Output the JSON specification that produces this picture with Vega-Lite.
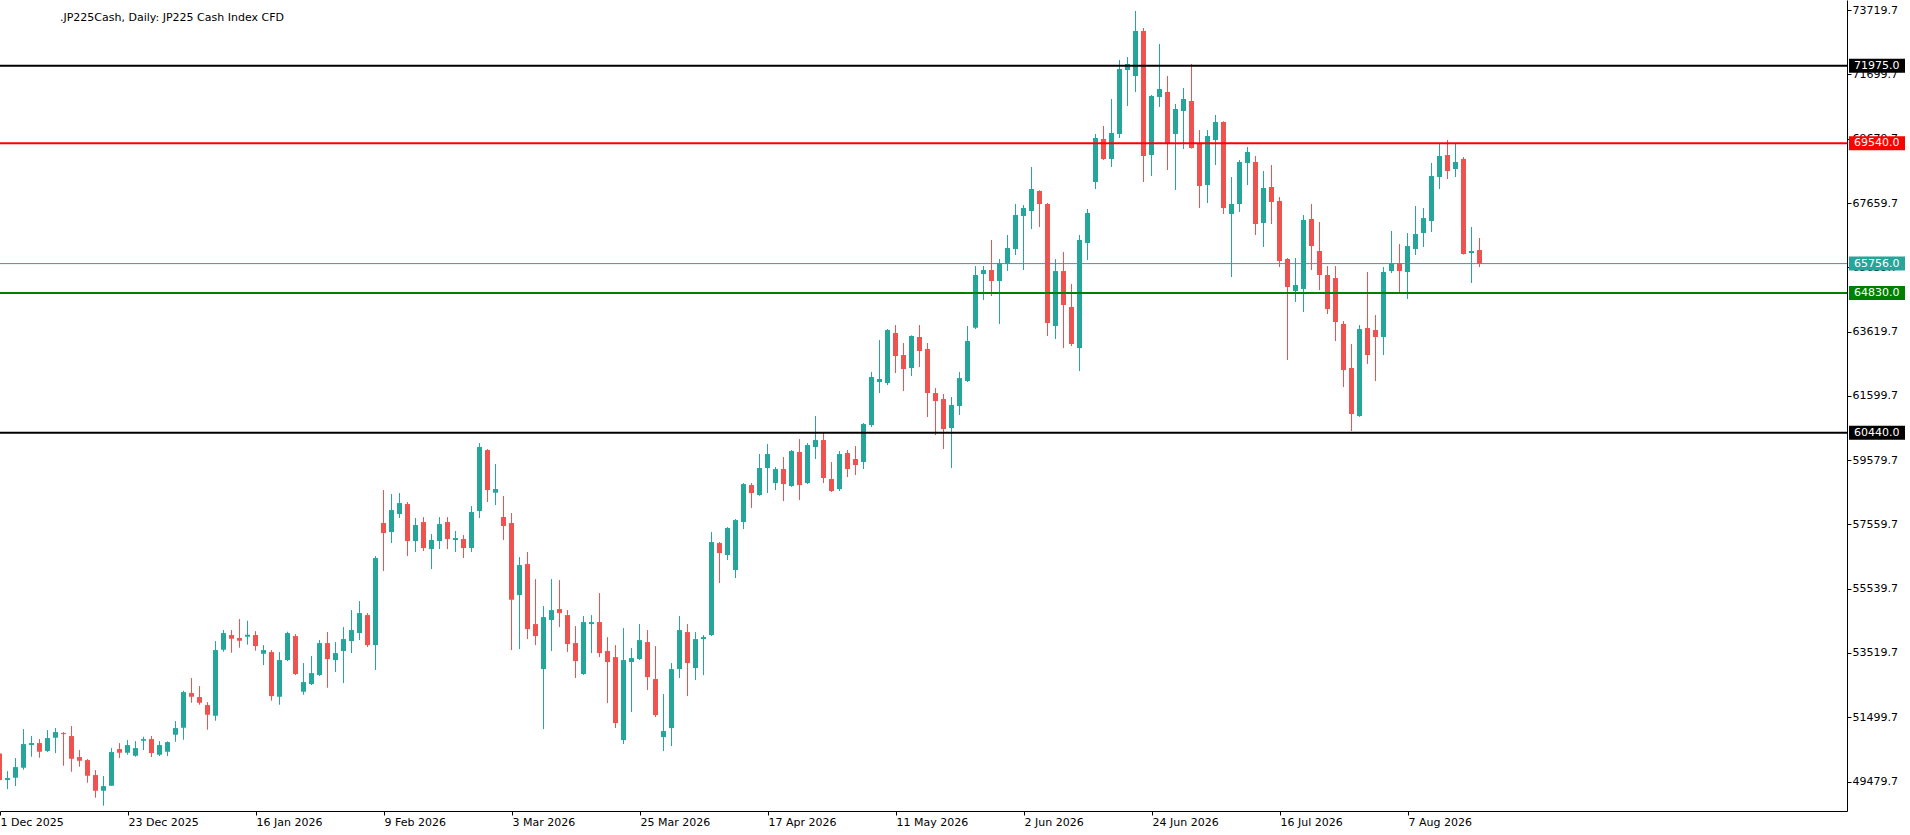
{
  "$schema": "https://vega.github.io/schema/vega-lite/v6.json",
  "width": 1847,
  "height": 811,
  "autosize": {"type": "none"},
  "padding": {"left": 0, "top": 0, "right": 63, "bottom": 24},
  "background": "#ffffff",
  "title": {
    "text": ".JP225Cash, Daily:  JP225 Cash Index CFD",
    "anchor": "start", "frame": "group", "orient": "top",
    "offset": -29, "baseline": "middle", "dx": 60,
    "font": "DejaVu Sans", "fontSize": 11, "fontWeight": "normal", "color": "#000000"
  },
  "config": {"view": {"stroke": null}},
  "datasets": {
    "candles": [
      {"d":"2025-12-01","o":50363,"h":50415,"l":49472,"c":49524},
      {"d":"2025-12-02","o":49524,"h":49807,"l":49241,"c":49587},
      {"d":"2025-12-03","o":49598,"h":50216,"l":49336,"c":49932},
      {"d":"2025-12-04","o":49912,"h":51128,"l":49849,"c":50656},
      {"d":"2025-12-05","o":50625,"h":50908,"l":50258,"c":50688},
      {"d":"2025-12-08","o":50688,"h":50813,"l":50226,"c":50415},
      {"d":"2025-12-09","o":50436,"h":51096,"l":50405,"c":50845},
      {"d":"2025-12-10","o":50855,"h":51159,"l":50373,"c":51033},
      {"d":"2025-12-11","o":51002,"h":51033,"l":49975,"c":50970},
      {"d":"2025-12-12","o":50908,"h":51222,"l":49786,"c":50195},
      {"d":"2025-12-15","o":50247,"h":50467,"l":49944,"c":50132},
      {"d":"2025-12-16","o":50153,"h":50185,"l":49441,"c":49661},
      {"d":"2025-12-17","o":49682,"h":49839,"l":48969,"c":49189},
      {"d":"2025-12-18","o":49189,"h":49650,"l":48718,"c":49336},
      {"d":"2025-12-19","o":49346,"h":50530,"l":49346,"c":50405},
      {"d":"2025-12-22","o":50499,"h":50688,"l":50216,"c":50384},
      {"d":"2025-12-23","o":50384,"h":50782,"l":50321,"c":50625},
      {"d":"2025-12-24","o":50289,"h":50750,"l":50258,"c":50530},
      {"d":"2025-12-26","o":50761,"h":50887,"l":50467,"c":50813},
      {"d":"2025-12-29","o":50813,"h":50908,"l":50247,"c":50373},
      {"d":"2025-12-30","o":50321,"h":50750,"l":50279,"c":50625},
      {"d":"2025-12-31","o":50415,"h":50740,"l":50279,"c":50719},
      {"d":"2026-01-02","o":50949,"h":51379,"l":50729,"c":51159},
      {"d":"2026-01-05","o":51169,"h":52332,"l":50792,"c":52290},
      {"d":"2026-01-06","o":52259,"h":52730,"l":51955,"c":52144},
      {"d":"2026-01-07","o":52133,"h":52479,"l":51892,"c":51955},
      {"d":"2026-01-08","o":51882,"h":51976,"l":51106,"c":51578},
      {"d":"2026-01-09","o":51547,"h":53893,"l":51389,"c":53610},
      {"d":"2026-01-12","o":53621,"h":54239,"l":53558,"c":54145},
      {"d":"2026-01-13","o":54082,"h":54239,"l":53527,"c":53967},
      {"d":"2026-01-14","o":53988,"h":54585,"l":53684,"c":53904},
      {"d":"2026-01-15","o":54030,"h":54532,"l":53778,"c":54093},
      {"d":"2026-01-16","o":54082,"h":54207,"l":53589,"c":53736},
      {"d":"2026-01-19","o":53495,"h":53767,"l":53139,"c":53610},
      {"d":"2026-01-20","o":53547,"h":53610,"l":52018,"c":52164},
      {"d":"2026-01-21","o":52143,"h":53547,"l":51892,"c":53296},
      {"d":"2026-01-22","o":53296,"h":54187,"l":53264,"c":54145},
      {"d":"2026-01-23","o":54050,"h":54113,"l":52824,"c":52856},
      {"d":"2026-01-26","o":52301,"h":53202,"l":52206,"c":52604},
      {"d":"2026-01-27","o":52542,"h":53422,"l":52510,"c":52887},
      {"d":"2026-01-28","o":52824,"h":53924,"l":52800,"c":53830},
      {"d":"2026-01-29","o":53830,"h":54176,"l":52426,"c":53327},
      {"d":"2026-01-30","o":53296,"h":53862,"l":52919,"c":53516},
      {"d":"2026-02-02","o":53579,"h":54333,"l":52573,"c":53956},
      {"d":"2026-02-03","o":53893,"h":54867,"l":53516,"c":54239},
      {"d":"2026-02-04","o":54145,"h":55150,"l":53924,"c":54773},
      {"d":"2026-02-05","o":54710,"h":54773,"l":53704,"c":53767},
      {"d":"2026-02-06","o":53767,"h":56565,"l":52982,"c":56502},
      {"d":"2026-02-09","o":57602,"h":58639,"l":56093,"c":57288},
      {"d":"2026-02-10","o":57319,"h":58513,"l":56973,"c":58010},
      {"d":"2026-02-11","o":57885,"h":58545,"l":57759,"c":58231},
      {"d":"2026-02-12","o":58199,"h":58262,"l":56565,"c":57036},
      {"d":"2026-02-13","o":57036,"h":57759,"l":56691,"c":57539},
      {"d":"2026-02-16","o":57633,"h":57790,"l":56722,"c":56816},
      {"d":"2026-02-17","o":56785,"h":57256,"l":56156,"c":57068},
      {"d":"2026-02-18","o":57036,"h":57790,"l":56785,"c":57570},
      {"d":"2026-02-19","o":57633,"h":57790,"l":56785,"c":57099},
      {"d":"2026-02-20","o":57068,"h":57351,"l":56691,"c":57130},
      {"d":"2026-02-23","o":57099,"h":57225,"l":56502,"c":56816},
      {"d":"2026-02-24","o":56816,"h":58136,"l":56691,"c":57948},
      {"d":"2026-02-25","o":57979,"h":60116,"l":57759,"c":59991},
      {"d":"2026-02-26","o":59896,"h":59928,"l":58262,"c":58639},
      {"d":"2026-02-27","o":58556,"h":59457,"l":58168,"c":58671},
      {"d":"2026-03-02","o":57791,"h":58451,"l":57068,"c":57508},
      {"d":"2026-03-03","o":57602,"h":57917,"l":53610,"c":55192},
      {"d":"2026-03-04","o":55339,"h":56534,"l":53642,"c":56282},
      {"d":"2026-03-05","o":56313,"h":56691,"l":53956,"c":54270},
      {"d":"2026-03-06","o":54427,"h":55842,"l":53767,"c":54050},
      {"d":"2026-03-09","o":53013,"h":54993,"l":51127,"c":54647},
      {"d":"2026-03-10","o":54553,"h":55842,"l":53579,"c":54867},
      {"d":"2026-03-11","o":54899,"h":55810,"l":54333,"c":54773},
      {"d":"2026-03-12","o":54710,"h":54867,"l":53547,"c":53799},
      {"d":"2026-03-13","o":53830,"h":54365,"l":52730,"c":53265},
      {"d":"2026-03-16","o":52856,"h":54679,"l":52830,"c":54490},
      {"d":"2026-03-17","o":54427,"h":54710,"l":53516,"c":54490},
      {"d":"2026-03-18","o":54490,"h":55402,"l":53390,"c":53516},
      {"d":"2026-03-19","o":53579,"h":54019,"l":51944,"c":53233},
      {"d":"2026-03-20","o":53390,"h":53767,"l":51159,"c":51316},
      {"d":"2026-03-23","o":50781,"h":54302,"l":50656,"c":53296},
      {"d":"2026-03-24","o":53233,"h":53673,"l":51661,"c":53359},
      {"d":"2026-03-25","o":53327,"h":54427,"l":53300,"c":53924},
      {"d":"2026-03-26","o":53862,"h":54239,"l":52353,"c":52762},
      {"d":"2026-03-27","o":52699,"h":53736,"l":51504,"c":51567},
      {"d":"2026-03-30","o":50876,"h":52227,"l":50436,"c":51064},
      {"d":"2026-03-31","o":51159,"h":53202,"l":50593,"c":53013},
      {"d":"2026-04-01","o":53013,"h":54679,"l":52730,"c":54239},
      {"d":"2026-04-02","o":54176,"h":54427,"l":52164,"c":53202},
      {"d":"2026-04-06","o":53045,"h":54176,"l":52667,"c":53956},
      {"d":"2026-04-07","o":53956,"h":54082,"l":52824,"c":54019},
      {"d":"2026-04-08","o":54082,"h":57319,"l":54050,"c":57005},
      {"d":"2026-04-09","o":56973,"h":57005,"l":55716,"c":56659},
      {"d":"2026-04-10","o":56596,"h":57476,"l":56439,"c":57445},
      {"d":"2026-04-13","o":56125,"h":57728,"l":55873,"c":57696},
      {"d":"2026-04-14","o":57633,"h":58859,"l":57413,"c":58828},
      {"d":"2026-04-15","o":58796,"h":58859,"l":58073,"c":58545},
      {"d":"2026-04-16","o":58482,"h":59771,"l":58460,"c":59331},
      {"d":"2026-04-17","o":59331,"h":60085,"l":58545,"c":59771},
      {"d":"2026-04-20","o":58859,"h":59362,"l":58639,"c":59299},
      {"d":"2026-04-21","o":59299,"h":59677,"l":58293,"c":58828},
      {"d":"2026-04-22","o":58765,"h":59897,"l":58740,"c":59865},
      {"d":"2026-04-23","o":59834,"h":60242,"l":58325,"c":58796},
      {"d":"2026-04-24","o":58859,"h":60116,"l":58828,"c":60054},
      {"d":"2026-04-27","o":59991,"h":60965,"l":59614,"c":60211},
      {"d":"2026-04-28","o":60211,"h":60431,"l":58859,"c":59017},
      {"d":"2026-04-29","o":58985,"h":59519,"l":58576,"c":58608},
      {"d":"2026-04-30","o":58671,"h":59865,"l":58608,"c":59771},
      {"d":"2026-05-01","o":59802,"h":59897,"l":59048,"c":59299},
      {"d":"2026-05-04","o":59614,"h":60022,"l":59111,"c":59425},
      {"d":"2026-05-05","o":59519,"h":60745,"l":59299,"c":60714},
      {"d":"2026-05-06","o":60682,"h":62348,"l":60619,"c":62191},
      {"d":"2026-05-07","o":62034,"h":63354,"l":61688,"c":62128},
      {"d":"2026-05-08","o":62002,"h":63700,"l":61939,"c":63668},
      {"d":"2026-05-11","o":63574,"h":63825,"l":62317,"c":62851},
      {"d":"2026-05-12","o":62882,"h":63260,"l":61751,"c":62442},
      {"d":"2026-05-13","o":62474,"h":63500,"l":62222,"c":63480},
      {"d":"2026-05-14","o":63448,"h":63825,"l":62505,"c":63008},
      {"d":"2026-05-15","o":63071,"h":63260,"l":60934,"c":61688},
      {"d":"2026-05-18","o":61688,"h":61845,"l":60368,"c":61436},
      {"d":"2026-05-19","o":61499,"h":61657,"l":59928,"c":60557},
      {"d":"2026-05-20","o":60588,"h":61562,"l":59331,"c":61311},
      {"d":"2026-05-21","o":61279,"h":62348,"l":60997,"c":62159},
      {"d":"2026-05-22","o":62065,"h":63794,"l":62034,"c":63322},
      {"d":"2026-05-25","o":63741,"h":65680,"l":63700,"c":65397},
      {"d":"2026-05-26","o":65428,"h":65680,"l":64611,"c":65554},
      {"d":"2026-05-27","o":65554,"h":66497,"l":64737,"c":65208},
      {"d":"2026-05-28","o":65208,"h":65899,"l":63856,"c":65774},
      {"d":"2026-05-29","o":65742,"h":66654,"l":65522,"c":66245},
      {"d":"2026-06-01","o":66214,"h":67628,"l":66025,"c":67282},
      {"d":"2026-06-02","o":67251,"h":67597,"l":65554,"c":67502},
      {"d":"2026-06-03","o":67408,"h":68791,"l":66842,"c":68100},
      {"d":"2026-06-04","o":68037,"h":68060,"l":66905,"c":67628},
      {"d":"2026-06-05","o":67628,"h":67659,"l":63479,"c":63888},
      {"d":"2026-06-08","o":63794,"h":65899,"l":63385,"c":65522},
      {"d":"2026-06-09","o":65522,"h":66119,"l":63102,"c":64454},
      {"d":"2026-06-10","o":64391,"h":65114,"l":63165,"c":63228},
      {"d":"2026-06-11","o":63102,"h":66654,"l":62379,"c":66497},
      {"d":"2026-06-12","o":66402,"h":67471,"l":65868,"c":67345},
      {"d":"2026-06-15","o":68320,"h":69828,"l":68100,"c":69703},
      {"d":"2026-06-16","o":69671,"h":70080,"l":69011,"c":69043},
      {"d":"2026-06-17","o":69043,"h":70928,"l":68791,"c":69860},
      {"d":"2026-06-18","o":69828,"h":72154,"l":69703,"c":71871},
      {"d":"2026-06-19","o":71840,"h":72248,"l":70708,"c":72028},
      {"d":"2026-06-22","o":71651,"h":73694,"l":71148,"c":73066},
      {"d":"2026-06-23","o":73066,"h":73160,"l":68320,"c":69137},
      {"d":"2026-06-24","o":69168,"h":71054,"l":68508,"c":71023},
      {"d":"2026-06-25","o":70991,"h":72657,"l":70677,"c":71243},
      {"d":"2026-06-26","o":71148,"h":71651,"l":68697,"c":69545},
      {"d":"2026-06-29","o":69828,"h":70771,"l":68068,"c":70614},
      {"d":"2026-06-30","o":70551,"h":71274,"l":69357,"c":70928},
      {"d":"2026-07-01","o":70865,"h":72028,"l":69370,"c":69388},
      {"d":"2026-07-02","o":69545,"h":69954,"l":67502,"c":68194},
      {"d":"2026-07-03","o":68225,"h":69954,"l":67659,"c":69765},
      {"d":"2026-07-06","o":69640,"h":70426,"l":68854,"c":70205},
      {"d":"2026-07-07","o":70206,"h":70230,"l":67314,"c":67502},
      {"d":"2026-07-08","o":67314,"h":68477,"l":65334,"c":67628},
      {"d":"2026-07-09","o":67628,"h":69011,"l":67377,"c":68948},
      {"d":"2026-07-10","o":68917,"h":69420,"l":68225,"c":69262},
      {"d":"2026-07-13","o":68948,"h":69137,"l":66654,"c":67000},
      {"d":"2026-07-14","o":67031,"h":68665,"l":66277,"c":68131},
      {"d":"2026-07-15","o":68163,"h":68854,"l":67000,"c":67691},
      {"d":"2026-07-16","o":67723,"h":67848,"l":65648,"c":65837},
      {"d":"2026-07-17","o":65900,"h":65931,"l":62725,"c":65019},
      {"d":"2026-07-20","o":64894,"h":65931,"l":64548,"c":65082},
      {"d":"2026-07-21","o":64957,"h":67282,"l":64234,"c":67126},
      {"d":"2026-07-22","o":67157,"h":67628,"l":65554,"c":66308},
      {"d":"2026-07-23","o":66151,"h":67063,"l":64925,"c":65397},
      {"d":"2026-07-24","o":65397,"h":65680,"l":64171,"c":64328},
      {"d":"2026-07-27","o":65302,"h":65680,"l":63322,"c":63920},
      {"d":"2026-07-28","o":63857,"h":63951,"l":61876,"c":62411},
      {"d":"2026-07-29","o":62474,"h":63228,"l":60493,"c":61028},
      {"d":"2026-07-30","o":60965,"h":63825,"l":60940,"c":63699},
      {"d":"2026-07-31","o":63731,"h":65491,"l":62599,"c":62882},
      {"d":"2026-08-03","o":63668,"h":64139,"l":62065,"c":63448},
      {"d":"2026-08-04","o":63448,"h":65648,"l":62882,"c":65491},
      {"d":"2026-08-05","o":65522,"h":66780,"l":65460,"c":65774},
      {"d":"2026-08-06","o":65774,"h":66371,"l":64862,"c":65522},
      {"d":"2026-08-07","o":65491,"h":66717,"l":64642,"c":66308},
      {"d":"2026-08-10","o":66214,"h":67565,"l":66025,"c":66685},
      {"d":"2026-08-11","o":66717,"h":67502,"l":66277,"c":67188},
      {"d":"2026-08-12","o":67094,"h":68917,"l":66748,"c":68508},
      {"d":"2026-08-13","o":68477,"h":69514,"l":68100,"c":69137},
      {"d":"2026-08-14","o":69168,"h":69640,"l":68414,"c":68665},
      {"d":"2026-08-17","o":68728,"h":69546,"l":68477,"c":68948},
      {"d":"2026-08-18","o":69043,"h":69106,"l":66040,"c":66057},
      {"d":"2026-08-19","o":66088,"h":66905,"l":65146,"c":66151},
      {"d":"2026-08-20","o":66182,"h":66560,"l":65648,"c":65742}
    ],
    "levels": [
      {"kind": "upper", "v": 71975},
      {"kind": "resistance", "v": 69540},
      {"kind": "bid", "v": 65756},
      {"kind": "support", "v": 64830},
      {"kind": "lower", "v": 60440}
    ]
  },
  "layer": [
    {
      "data": {"name": "candles"},
      "encoding": {
        "x": {
          "field": "d", "type": "ordinal",
          "scale": {
            "type": "point", "padding": 0.4375, "align": 0, "round": false,
            "domain": {"unionWith": [
              "2026-08-21", "2026-08-24", "2026-08-25", "2026-08-26", "2026-08-27", "2026-08-28", "2026-08-31",
              "2026-09-01", "2026-09-02", "2026-09-03", "2026-09-04", "2026-09-07", "2026-09-08", "2026-09-09",
              "2026-09-10", "2026-09-11", "2026-09-14", "2026-09-15", "2026-09-16", "2026-09-17", "2026-09-18",
              "2026-09-21", "2026-09-22", "2026-09-23", "2026-09-24", "2026-09-25", "2026-09-28", "2026-09-29",
              "2026-09-30", "2026-10-01", "2026-10-02", "2026-10-05", "2026-10-06", "2026-10-07", "2026-10-08",
              "2026-10-09", "2026-10-12", "2026-10-13", "2026-10-14", "2026-10-15", "2026-10-16", "2026-10-19",
              "2026-10-20", "2026-10-21", "2026-10-22"
            ]}
          },
          "axis": {
            "title": null, "orient": "bottom",
            "values": ["2025-12-01", "2025-12-23", "2026-01-16", "2026-02-09", "2026-03-03", "2026-03-25",
                       "2026-04-17", "2026-05-11", "2026-06-02", "2026-06-24", "2026-07-16", "2026-08-07"],
            "labelExpr": "utcFormat(toDate(datum.value), '%-d %b %Y')",
            "labelAngle": 0, "labelAlign": "left", "labelBaseline": "top", "labelPadding": 1,
            "labelOverlap": false, "labelBound": false, "labelFlush": false,
            "labelFont": "DejaVu Sans", "labelFontSize": 11, "labelColor": "#000000",
            "tickSize": 4, "tickColor": "#000000", "domainColor": "#000000", "grid": false
          }
        },
        "color": {"condition": {"test": "datum.c > datum.o", "value": "#26a69a"}, "value": "#ef5350"}
      },
      "layer": [
        {
          "mark": {"type": "rule", "strokeWidth": 1, "xOffset": -0.5},
          "encoding": {
            "y": {
              "field": "l", "type": "quantitative",
              "scale": {"domain": [48553, 74040], "nice": false, "zero": false},
              "axis": {
                "title": null, "orient": "right",
                "values": [49479.7, 50489.7, 51499.7, 52509.7, 53519.7, 54529.7, 55539.7, 56549.7, 57559.7,
                           58569.7, 59579.7, 60589.7, 61599.7, 62609.7, 63619.7, 64629.7, 65639.7, 66649.7,
                           67659.7, 68669.7, 69679.7, 70689.7, 71699.7, 72709.7, 73719.7],
                "format": ".1f", "labelPadding": 1, "labelOverlap": false, "labelBound": false, "labelFlush": false,
                "labelFont": "DejaVu Sans", "labelFontSize": 11, "labelColor": "#000000",
                "tickSize": 4, "tickColor": "#000000", "domainColor": "#000000", "grid": false
              }
            },
            "y2": {"field": "h"}
          }
        },
        {
          "mark": {"type": "bar", "width": 5, "xOffset": -0.5},
          "encoding": {
            "y": {"field": "o", "type": "quantitative"},
            "y2": {"field": "c"}
          }
        }
      ]
    },
    {
      "data": {"name": "levels"},
      "mark": {"type": "rule"},
      "encoding": {
        "y": {"field": "v", "type": "quantitative"},
        "color": {
          "field": "kind", "type": "nominal", "legend": null,
          "scale": {"domain": ["upper", "resistance", "bid", "support", "lower"],
                    "range": ["#000000", "#ff0000", "#26a69a", "#008000", "#000000"]}
        },
        "strokeWidth": {"condition": {"test": "datum.kind === 'bid'", "value": 1}, "value": 2}
      }
    },
    {
      "data": {"name": "levels"},
      "mark": {"type": "rect", "xOffset": 2, "x2Offset": 58, "yOffset": -7, "y2Offset": 7},
      "encoding": {
        "x": {"value": "width"},
        "x2": {"value": "width"},
        "y": {"field": "v", "type": "quantitative"},
        "y2": {"field": "v"},
        "color": {"field": "kind", "type": "nominal", "legend": null}
      }
    },
    {
      "data": {"name": "levels"},
      "mark": {"type": "text", "align": "left", "baseline": "middle", "dx": 7,
               "font": "DejaVu Sans", "fontSize": 11, "fill": "#ffffff"},
      "encoding": {
        "x": {"value": "width"},
        "y": {"field": "v", "type": "quantitative"},
        "text": {"field": "v", "type": "quantitative", "format": ".1f"}
      }
    }
  ]
}
